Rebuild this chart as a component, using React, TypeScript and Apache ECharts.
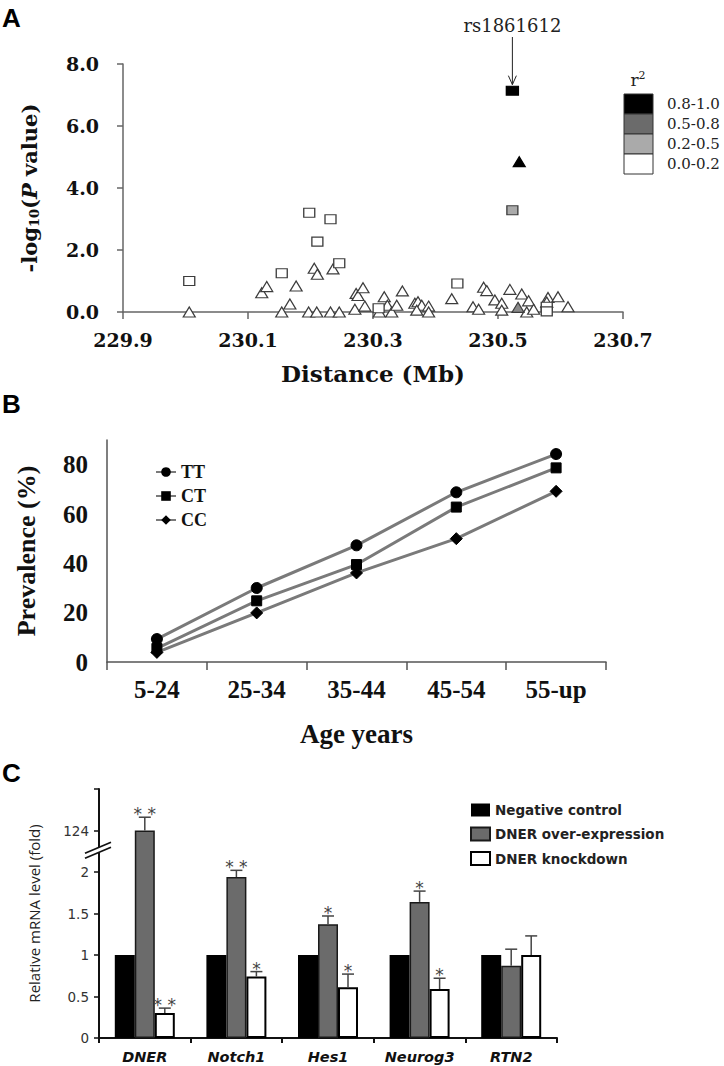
import React, { useEffect, useRef } from 'react';
import * as echarts from 'echarts';

// ---------- Panel A data (regional association plot) ----------
const xTicksA = [229.9, 230.1, 230.3, 230.5, 230.7];
const yTicksA = [0, 2, 4, 6, 8];
const r2Classes = ['0.8-1.0', '0.5-0.8', '0.2-0.5', '0.0-0.2'];
const r2Colors = ['#000000', '#6b6b6b', '#aaaaaa', '#ffffff'];
const leadSnp = 'rs1861612';
const leadSnpPos = [230.523, 7.14];

const triWhite = [
  [230.006, 0], [230.122, 0.62], [230.13, 0.82], [230.154, 0], [230.167, 0.26],
  [230.177, 0.84], [230.197, 0], [230.206, 1.41], [230.211, 1.22], [230.21, 0],
  [230.232, 0], [230.236, 1.39], [230.246, 0], [230.271, 0.09], [230.273, 0.6],
  [230.276, 0.53], [230.284, 0.78], [230.287, 0.19], [230.31, 0], [230.318, 0.49],
  [230.323, 0.22], [230.33, 0], [230.338, 0.22], [230.347, 0.68], [230.367, 0.28],
  [230.372, 0.33], [230.378, 0.22], [230.389, 0.19], [230.389, 0], [230.37, 0.06],
  [230.426, 0.43], [230.46, 0.17], [230.469, 0.09], [230.477, 0.8], [230.482, 0.69],
  [230.495, 0.39], [230.506, 0.28], [230.506, 0.06], [230.519, 0.73], [230.538, 0.58],
  [230.546, 0], [230.549, 0.36], [230.557, 0.09], [230.58, 0.47], [230.596, 0.49],
  [230.612, 0.17], [230.578, 0.32],
];
const sqWhite = [
  [230.006, 1.0], [230.154, 1.25], [230.198, 3.2], [230.211, 2.27], [230.232, 2.99],
  [230.246, 1.57], [230.309, 0.12], [230.435, 0.92], [230.578, 0.17], [230.578, 0.02],
];
const sqLight = [[230.523, 3.28]];
const triLight = [[230.532, 0.15]];
const sqBlack = [leadSnpPos];
const triBlack = [[230.534, 4.85]];

// ---------- Panel B data (prevalence by age) ----------
const ageGroups = ['5-24', '25-34', '35-44', '45-54', '55-up'];
const yTicksB = [0, 20, 40, 60, 80];
const prevTT = [9.3, 30.0, 47.3, 68.8, 84.3];
const prevCT = [5.5, 24.8, 39.5, 62.8, 78.7];
const prevCC = [3.9, 19.9, 36.1, 50.0, 69.2];

// ---------- Panel C data (relative mRNA level) ----------
const genes = ['DNER', 'Notch1', 'Hes1', 'Neurog3', 'RTN2'];
const negControl = [1, 1, 1, 1, 1];
const overExpr = [124, 1.94, 1.37, 1.64, 0.87];
const overErr = [6.4, 0.08, 0.1, 0.13, 0.2];
const overSig = ['* *', '* *', '*', '*', ''];
const knockdown = [0.3, 0.74, 0.61, 0.59, 1.0];
const knockErr = [0.06, 0.06, 0.16, 0.13, 0.23];
const knockSig = ['* *', '*', '*', '*', ''];
const yTicksC = [0, 0.5, 1, 1.5, 2, 2.5, 3];
const yLabelsC = [0, 0.5, 1, 1.5, 2, 2.5];

// broken axis: values above the break are shown on a compressed segment (124 sits at 2.5)
const BREAK_LOW = 2.25;
const BREAK_REF = 124;
const UPPER_SCALE = 40;
const disp = (v: number) => (v > BREAK_LOW * 10 ? 2.5 + (v - BREAK_REF) / UPPER_SCALE : v);
const tickText = (v: number) => (v === 2.5 ? String(BREAK_REF) : v >= 3 ? '' : String(v));

const SERIF = '"Liberation Serif", "Times New Roman", serif';
const WSERIF = '"DejaVu Serif", serif';
const SANS = '"DejaVu Sans", sans-serif';

export default function App() {
  const ref = useRef<HTMLDivElement>(null);
  useEffect(() => {
    if (!ref.current) return;
    const chart = echarts.init(ref.current, undefined, { renderer: 'svg' });

    const gA = { left: 123, top: 64, width: 500, height: 248 };
    const gB = { left: 107, top: 440, width: 499, height: 222 };
    const gC = { left: 99, top: 789, width: 458, height: 249 };

    const scatter = (name: string, data: number[][], symbol: string, size: number[], color: string, border: string) => ({
      type: 'scatter', name, xAxisIndex: 0, yAxisIndex: 0, data, symbol, symbolSize: size,
      itemStyle: { color, borderColor: border, borderWidth: 1.2, opacity: 1 },
      emphasis: { disabled: true },
    });

    const barW = 20;
    const errItems: any[] = [];
    const errSig: string[] = [];
    genes.forEach((_, i) => {
      errItems.push({ value: [i, disp(overExpr[i]), disp(overExpr[i] + overErr[i]), 0] });
      errSig.push(overSig[i]);
      errItems.push({ value: [i, knockdown[i], knockdown[i] + knockErr[i], 1] });
      errSig.push(knockSig[i]);
    });

    const breakY = gC.top + gC.height * (1 - BREAK_LOW / 3);
    const ax = gC.left;

    const legendBoxes: any[] = [];
    r2Classes.forEach((c, i) => {
      legendBoxes.push({
        type: 'rect', id: 'r2box' + i, shape: { x: 624, y: 94 + i * 20, width: 29, height: 20 },
        style: { fill: r2Colors[i], stroke: '#333', lineWidth: 1 },
      });
      legendBoxes.push({
        type: 'text', id: 'r2txt' + i, x: 667, y: 104 + i * 20,
        style: { text: c, fontFamily: WSERIF, fontSize: 15, fill: '#222', verticalAlign: 'middle', align: 'left' },
      });
    });

    const option: any = {
      animation: false,
      backgroundColor: '#ffffff',
      grid: [
        { ...gA, containLabel: false, outerBoundsMode: 'none' },
        { ...gB, containLabel: false, outerBoundsMode: 'none' },
        { ...gC, containLabel: false, outerBoundsMode: 'none' },
      ],
      xAxis: [
        {
          gridIndex: 0, type: 'value', min: 229.9, max: 230.7,
          axisLine: { show: true, onZero: false, lineStyle: { color: '#666', width: 1.5 } },
          axisTick: { show: true, customValues: xTicksA, length: 7, lineStyle: { color: '#666', width: 1.5 } },
          axisLabel: { customValues: xTicksA, formatter: (v: number) => v.toFixed(1), fontFamily: WSERIF, fontWeight: 'bold', fontSize: 19, color: '#111', margin: 18 },
          splitLine: { show: false },
          name: 'Distance (Mb)', nameLocation: 'middle', nameGap: 50,
          nameTextStyle: { fontFamily: WSERIF, fontWeight: 'bold', fontSize: 23, color: '#111' },
        },
        {
          gridIndex: 1, type: 'category', data: ageGroups, boundaryGap: true,
          axisLine: { show: true, lineStyle: { color: '#555', width: 1.5 } },
          axisTick: { show: true, length: 8, lineStyle: { color: '#555', width: 1.5 } },
          axisLabel: { fontFamily: SERIF, fontWeight: 'bold', fontSize: 25, color: '#111', margin: 15 },
          name: 'Age years', nameLocation: 'middle', nameGap: 58,
          nameTextStyle: { fontFamily: SERIF, fontWeight: 'bold', fontSize: 27, color: '#111' },
        },
        {
          gridIndex: 2, type: 'category', data: genes, boundaryGap: true,
          axisLine: { show: true, lineStyle: { color: '#111', width: 2 } },
          axisTick: { show: true, length: 5, lineStyle: { color: '#111', width: 2 } },
          axisLabel: { fontFamily: SANS, fontWeight: 'bold', fontStyle: 'italic', fontSize: 14.5, color: '#111', margin: 11 },
        },
      ],
      yAxis: [
        {
          gridIndex: 0, type: 'value', min: 0, max: 8, interval: 2,
          axisLine: { show: true, lineStyle: { color: '#666', width: 1.5 } },
          axisTick: { show: true, length: 6, lineStyle: { color: '#666', width: 1.5 } },
          axisLabel: { customValues: yTicksA, formatter: (v: number) => v.toFixed(1), fontFamily: WSERIF, fontWeight: 'bold', fontSize: 19, color: '#111', margin: 24 },
          splitLine: { show: false },
          name: '{a|-log}{s|10}{a|(}{i|P}{a| value)}', nameLocation: 'middle', nameGap: 82, nameRotate: 90,
          nameTextStyle: {
            rich: {
              a: { fontFamily: WSERIF, fontWeight: 'bold', fontSize: 21, color: '#111' },
              s: { fontFamily: WSERIF, fontWeight: 'bold', fontSize: 13, color: '#111', padding: [10, 0, 0, 0] },
              i: { fontFamily: WSERIF, fontWeight: 'bold', fontStyle: 'italic', fontSize: 21, color: '#111' },
            },
          },
        },
        {
          gridIndex: 1, type: 'value', min: 0, max: 90,
          axisLine: { show: true, lineStyle: { color: '#555', width: 1.5 } },
          axisTick: { show: false },
          axisLabel: { customValues: yTicksB, fontFamily: SERIF, fontWeight: 'bold', fontSize: 25, color: '#111', margin: 19 },
          splitLine: { show: false },
          name: 'Prevalence (%)', nameLocation: 'middle', nameGap: 68,
          nameTextStyle: { fontFamily: SERIF, fontWeight: 'bold', fontSize: 26, color: '#111' },
        },
        {
          gridIndex: 2, type: 'value', min: 0, max: 3,
          axisLine: { show: true, lineStyle: { color: '#111', width: 2 } },
          axisTick: { show: true, customValues: yTicksC, length: 5, lineStyle: { color: '#111', width: 1.5 } },
          axisLabel: { customValues: yLabelsC, formatter: (v: number) => tickText(v), fontFamily: SANS, fontSize: 13.5, color: '#333', margin: 10 },
          splitLine: { show: false },
          name: 'Relative mRNA level (fold)', nameLocation: 'middle', nameGap: 58,
          nameTextStyle: { fontFamily: '"Open Sans", sans-serif', fontSize: 15, color: '#222' },
        },
      ],
      legend: [
        {
          data: ['TT', 'CT', 'CC'], orient: 'vertical', left: 150, top: 458,
          itemWidth: 20, itemHeight: 12, itemGap: 6,
          textStyle: { fontFamily: SERIF, fontWeight: 'bold', fontSize: 18, color: '#111' },
          selectedMode: false,
        },
        {
          data: ['Negative control', 'DNER over-expression', 'DNER knockdown'], orient: 'vertical', left: 465, top: 798,
          itemWidth: 19, itemHeight: 13, itemGap: 9.5, icon: 'rect',
          textStyle: { fontFamily: SANS, fontWeight: 'bold', fontSize: 13.5, color: '#222' },
          selectedMode: false,
        },
      ],
      series: [
        scatter('r2 0.0-0.2 (triangle)', triWhite, 'triangle', [12, 10], r2Colors[3], '#3c3c3c'),
        scatter('r2 0.0-0.2 (square)', sqWhite, 'rect', [11, 9], r2Colors[3], '#3c3c3c'),
        scatter('r2 0.2-0.5 (square)', sqLight, 'rect', [11, 9], r2Colors[2], '#3c3c3c'),
        scatter('r2 0.2-0.5 (triangle)', triLight, 'triangle', [12, 10], '#8a8a8a', '#3c3c3c'),
        scatter('r2 0.8-1.0 (triangle)', triBlack, 'triangle', [12, 10], r2Colors[0], '#000'),
        scatter('r2 0.8-1.0 (square)', sqBlack, 'rect', [12, 9], r2Colors[0], '#000'),
        ...[['TT', prevTT, 'circle', 11], ['CT', prevCT, 'rect', 10], ['CC', prevCC, 'diamond', 12]].map(([n, d, s, sz]) => ({
          type: 'line', name: n, xAxisIndex: 1, yAxisIndex: 1, data: d, symbol: s, symbolSize: sz,
          showAllSymbol: true,
          lineStyle: { color: '#7a7a7a', width: 3 },
          itemStyle: { color: '#000', borderColor: '#000' },
        })),
        {
          type: 'bar', name: 'Negative control', xAxisIndex: 2, yAxisIndex: 2, data: negControl.map(disp),
          barWidth: barW, barGap: '0%', itemStyle: { color: '#000', borderColor: '#000', borderWidth: 0 },
        },
        {
          type: 'bar', name: 'DNER over-expression', xAxisIndex: 2, yAxisIndex: 2, data: overExpr.map(disp),
          barWidth: barW, barGap: '0%', itemStyle: { color: '#6b6b6b', borderColor: '#1a1a1a', borderWidth: 1.5 },
        },
        {
          type: 'bar', name: 'DNER knockdown', xAxisIndex: 2, yAxisIndex: 2, data: knockdown.map(disp),
          barWidth: barW, barGap: '0%', itemStyle: { color: '#fff', borderColor: '#000', borderWidth: 2 },
        },
        {
          type: 'custom', name: 'error bars', xAxisIndex: 2, yAxisIndex: 2, data: errItems, z: 5, clip: false,
          renderItem: (params: any, api: any) => {
            const cat = api.value(0);
            const top = api.coord([cat, api.value(1)]);
            const err = api.coord([cat, api.value(2)]);
            const x = top[0] + api.value(3) * barW;
            const sig = errSig[params.dataIndex];
            const children: any[] = [
              { type: 'line', shape: { x1: x, y1: top[1], x2: x, y2: err[1] }, style: { stroke: '#444', lineWidth: 1.5 } },
              { type: 'line', shape: { x1: x - 6, y1: err[1], x2: x + 6, y2: err[1] }, style: { stroke: '#444', lineWidth: 1.5 } },
            ];
            if (sig) {
              children.push({
                type: 'text', x, y: err[1] - 3,
                style: { text: sig, fontFamily: SANS, fontSize: 17, fill: '#444', align: 'center', verticalAlign: 'middle' },
              });
            }
            return { type: 'group', children };
          },
        },
      ],
      graphic: [
        { type: 'text', id: 'lblA', x: 2, y: 5, style: { text: 'A', fontFamily: '"Liberation Sans", Arial, sans-serif', fontWeight: 'bold', fontSize: 26, fill: '#000' } },
        { type: 'text', id: 'lblB', x: 2, y: 391, style: { text: 'B', fontFamily: '"Liberation Sans", Arial, sans-serif', fontWeight: 'bold', fontSize: 26, fill: '#000' } },
        { type: 'text', id: 'lblC', x: 2, y: 760, style: { text: 'C', fontFamily: '"Liberation Sans", Arial, sans-serif', fontWeight: 'bold', fontSize: 26, fill: '#000' } },
        {
          type: 'text', id: 'r2title', x: 638, y: 80,
          style: {
            text: '{r|r}{p|2}', align: 'center', verticalAlign: 'middle',
            rich: {
              r: { fontFamily: WSERIF, fontSize: 17, fill: '#222' },
              p: { fontFamily: WSERIF, fontSize: 11, fill: '#222', padding: [0, 0, 9, 0] },
            },
          },
        },
        ...legendBoxes,
        { type: 'polygon', id: 'brkFill', shape: { points: [[ax - 14, breakY + 2], [ax + 12, breakY - 9], [ax + 12, breakY - 4], [ax - 14, breakY + 7]] }, style: { fill: '#fff' }, z: 100 },
        { type: 'line', id: 'brk1', shape: { x1: ax - 14, y1: breakY + 2, x2: ax + 12, y2: breakY - 9 }, style: { stroke: '#111', lineWidth: 1.8 }, z: 101 },
        { type: 'line', id: 'brk2', shape: { x1: ax - 14, y1: breakY + 7, x2: ax + 12, y2: breakY - 4 }, style: { stroke: '#111', lineWidth: 1.8 }, z: 101 },
      ],
    };
    chart.setOption(option);

    // annotate the lead SNP with an arrow, placed through the chart's own scales
    const p = chart.convertToPixel({ xAxisIndex: 0, yAxisIndex: 0 }, leadSnpPos) as number[];
    const tipY = p[1] - 6;
    const startY = 37;
    chart.setOption({
      graphic: [
        { type: 'line', id: 'arrowShaft', shape: { x1: p[0], y1: startY, x2: p[0], y2: tipY }, style: { stroke: '#222', lineWidth: 1 } },
        { type: 'polyline', id: 'arrowHead', shape: { points: [[p[0] - 4, tipY - 9], [p[0], tipY], [p[0] + 4, tipY - 9]] }, style: { stroke: '#222', lineWidth: 1, fill: 'none' } },
        { type: 'text', id: 'snpLabel', x: p[0], y: startY - 3, style: { text: leadSnp, fontFamily: WSERIF, fontSize: 18, fill: '#222', align: 'center', verticalAlign: 'bottom' } },
      ],
    });
    return () => chart.dispose();
  }, []);
  return <div ref={ref} style={{ position: 'absolute', left: 0, top: 0, width: 724, height: 1066 }} />;
}
